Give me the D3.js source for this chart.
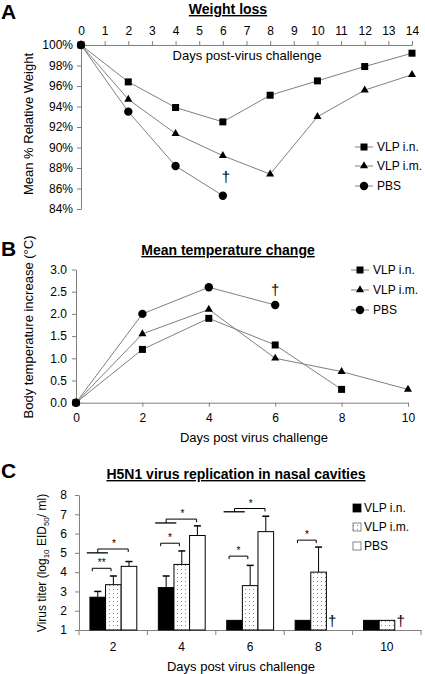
<!DOCTYPE html>
<html><head><meta charset="utf-8">
<script src="https://cdn.jsdelivr.net/npm/d3@7"></script>
<style>
body{margin:0;background:#fff;}
svg{display:block;font-family:"Liberation Sans",Arial,sans-serif;}
</style></head><body>
<script>
// ---------- Panel A: weight loss ----------
const aDays = [0, 2, 4, 6, 8, 10, 12, 14];
const aVLPin = [100, 96.4, 93.9, 92.5, 95.1, 96.5, 97.9, 99.2];
const aVLPim = [100, 94.7, 91.35, 89.2, 87.4, 93.0, 95.6, 97.1];
const aPBSDays = [0, 2, 4, 6];
const aPBS = [100, 93.5, 88.2, 85.3];
const aXTicks = [0, 1, 2, 3, 4, 5, 6, 7, 8, 9, 10, 11, 12, 13, 14];
const aYTicks = [84, 86, 88, 90, 92, 94, 96, 98, 100];

// ---------- Panel B: temperature ----------
const bDaysIn = [0, 2, 4, 6, 8];
const bVLPin = [0, 1.2, 1.9, 1.3, 0.3];
const bDaysIm = [0, 2, 4, 6, 8, 10];
const bVLPim = [0, 1.55, 2.1, 1.0, 0.7, 0.3];
const bDaysPBS = [0, 2, 4, 6];
const bPBS = [0, 2.0, 2.6, 2.2];
const bXTicks = [0, 2, 4, 6, 8, 10];
const bYTicks = [0, 0.5, 1.0, 1.5, 2.0, 2.5, 3.0];

// ---------- Panel C: virus titers ----------
const cDays = [2, 4, 6, 8, 10];
const cVLPin = [2.7, 3.2, 1.5, 1.5, 1.5];
const cVLPinTop = [3.0, 3.8, null, null, null];
const cVLPim = [3.35, 4.4, 3.3, 4.0, 1.5];
const cVLPimTop = [3.8, 5.1, 4.35, 5.3, null];
const cPBS = [4.3, 5.9, 6.1, null, null];
const cPBSTop = [4.55, 6.4, 6.9, null, null];
const cYTicks = [1, 2, 3, 4, 5, 6, 7, 8];
const seriesNames = ["VLP i.n.", "VLP i.m.", "PBS"];
// significance: pair bracket (VLP i.n. vs VLP i.m.)
const pairSig = [
  {day: 2, level: 4.2, label: "**"},
  {day: 4, level: 5.5, label: "*"},
  {day: 6, level: 4.83, label: "*"},
  {day: 8, level: 5.66, label: "*"}
];
// significance: vaccinated groups vs PBS
const groupSig = [
  {day: 2, lower: 5.0, upper: 5.2, label: "*"},
  {day: 4, lower: 6.55, upper: 6.75, label: "*"},
  {day: 6, lower: 7.13, upper: 7.3, label: "*"}
];
const deadDays = [8, 10];

const W = 425, H = 674;
const svg = d3.select("body").append("svg").attr("width", W).attr("height", H);
const axisGray = "#808080", lineGray = "#808080";

const defs = svg.append("defs");
const pat = defs.append("pattern").attr("id", "dots").attr("patternUnits", "userSpaceOnUse")
  .attr("width", 4).attr("height", 4);
pat.append("rect").attr("width", 4).attr("height", 4).attr("fill", "#fff");
pat.append("rect").attr("x", 1).attr("y", 1).attr("width", 1).attr("height", 1).attr("fill", "#888");

function marker(g, type, x, y) {
  if (type === "square") {
    g.append("rect").attr("x", x - 3.5).attr("y", y - 3.5).attr("width", 7).attr("height", 7).attr("fill", "#000");
  } else if (type === "triangle") {
    g.append("path").attr("d", d3.symbol(d3.symbolTriangle).size(28)()).attr("transform", `translate(${x},${y})`).attr("fill", "#000");
  } else {
    g.append("circle").attr("cx", x).attr("cy", y).attr("r", 4.2).attr("fill", "#000");
  }
}
function series(g, xs, ys, xScale, yScale, type) {
  const pts = xs.map((d, i) => [xScale(d), yScale(ys[i])]);
  g.append("path").attr("d", d3.line()(pts)).attr("fill", "none").attr("stroke", lineGray).attr("stroke-width", 1);
  pts.forEach(p => marker(g, type, p[0], p[1]));
}
function styleAxis(sel) {
  sel.select(".domain").attr("stroke", axisGray);
  sel.selectAll(".tick line").attr("stroke", axisGray);
  sel.selectAll("text").attr("fill", "#000").attr("font-size", 12).attr("font-family", "Liberation Sans, Arial, sans-serif");
}
function lineLegend(g, x, y, type, label) {
  g.append("line").attr("x1", x - 9).attr("x2", x + 9).attr("y1", y).attr("y2", y).attr("stroke", lineGray);
  marker(g, type, x, y);
  g.append("text").attr("x", x + 13).attr("y", y).attr("dy", "0.35em").attr("font-size", 12).text(label);
}
function letter(x, y, t) {
  svg.append("text").attr("x", x).attr("y", y).attr("font-size", 21).attr("font-weight", "bold").text(t);
}
function title(x, y, t) {
  svg.append("text").attr("x", x).attr("y", y).attr("text-anchor", "middle").attr("font-size", 14)
    .attr("font-weight", "bold").attr("text-decoration", "underline").text(t);
}
function yTitle(x, y, t, size) {
  return svg.append("text").attr("transform", `translate(${x},${y}) rotate(-90)`).attr("text-anchor", "middle")
    .attr("dy", "0.35em").attr("font-size", size || 13).text(t);
}

// ================= Panel A =================
letter(1, 19, "A");
title(228, 14, "Weight loss");
const xA = d3.scaleLinear().domain([0, 14]).range([81, 412]);
const yA = d3.scaleLinear().domain([84, 100]).range([209, 45]);
const gA = svg.append("g");
gA.append("g").attr("transform", "translate(0,45)")
  .call(d3.axisTop(xA).tickValues(aXTicks).tickFormat(d3.format("d")).tickSize(4).tickPadding(6).tickSizeOuter(0)).call(styleAxis);
gA.append("g").attr("transform", "translate(81,0)")
  .call(d3.axisLeft(yA).tickValues(aYTicks).tickFormat(d => d + "%").tickSize(4).tickPadding(4).tickSizeOuter(0)).call(styleAxis);
svg.append("text").attr("x", 247).attr("y", 60).attr("text-anchor", "middle").attr("font-size", 13).text("Days post-virus challenge");
yTitle(28, 124, "Mean % Relative Weight");
series(gA, aDays, aVLPin, xA, yA, "square");
series(gA, aDays, aVLPim, xA, yA, "triangle");
series(gA, aPBSDays, aPBS, xA, yA, "circle");
gA.append("text").attr("x", xA(6) + 3).attr("y", 182).attr("text-anchor", "middle").attr("font-size", 15).attr("fill", "#000").text("†");
lineLegend(gA, 364, 147, "square", seriesNames[0]);
lineLegend(gA, 364, 166, "triangle", seriesNames[1]);
lineLegend(gA, 364, 186, "circle", seriesNames[2]);

// ================= Panel B =================
letter(1, 256, "B");
title(228, 255, "Mean temperature change");
const xB = d3.scaleLinear().domain([0, 10]).range([76, 408]);
const yB = d3.scaleLinear().domain([0, 3]).range([402.7, 269.5]);
const gB = svg.append("g");
gB.append("g").attr("transform", "translate(0,402.7)")
  .call(d3.axisBottom(xB).tickValues(bXTicks).tickFormat(d3.format("d")).tickSize(4).tickPadding(7).tickSizeOuter(0)).call(styleAxis);
gB.append("g").attr("transform", "translate(76,0)")
  .call(d3.axisLeft(yB).tickValues(bYTicks).tickFormat(d3.format(".1f")).tickSize(4).tickPadding(5).tickSizeOuter(0)).call(styleAxis);
svg.append("text").attr("x", 254).attr("y", 442).attr("text-anchor", "middle").attr("font-size", 13).text("Days post virus challenge");
yTitle(28, 327, "Body temperature increase (°C)");
series(gB, bDaysIn, bVLPin, xB, yB, "square");
series(gB, bDaysIm, bVLPim, xB, yB, "triangle");
series(gB, bDaysPBS, bPBS, xB, yB, "circle");
gB.append("text").attr("x", xB(6)).attr("y", 295).attr("text-anchor", "middle").attr("font-size", 15).text("†");
lineLegend(gB, 360, 270, "square", seriesNames[0]);
lineLegend(gB, 360, 290, "triangle", seriesNames[1]);
lineLegend(gB, 360, 310, "circle", seriesNames[2]);

// ================= Panel C =================
letter(1, 478, "C");
title(236, 479, "H5N1 virus replication in nasal cavities");
const xC = d3.scaleBand().domain(cDays).range([79, 421]).padding(0);
const yC = d3.scaleLinear().domain([1, 8]).range([630, 495]);
const bw = xC.bandwidth();
const xSub = d3.scaleBand().domain([0, 1, 2]).range([bw * 0.16, bw * 0.845]);
const sw = xSub.bandwidth();
const gC = svg.append("g");
const fills = ["#000", "url(#dots)", "#fff"];
const vals = [cVLPin, cVLPim, cPBS];
const tops = [cVLPinTop, cVLPimTop, cPBSTop];

// axes
gC.append("g").attr("transform", "translate(79,0)")
  .call(d3.axisLeft(yC).tickValues(cYTicks).tickFormat(d3.format("d")).tickSize(4).tickPadding(8).tickSizeOuter(0)).call(styleAxis);
const xAx = gC.append("g").attr("transform", "translate(0,630)")
  .call(d3.axisBottom(xC).tickSize(0).tickPadding(12)).call(styleAxis);
const bounds = cDays.map(d => xC(d)).concat([xC(cDays[cDays.length - 1]) + bw]);
gC.selectAll(".btick").data(bounds).enter().append("line")
  .attr("x1", d => d).attr("x2", d => d).attr("y1", 630).attr("y2", 635).attr("stroke", axisGray);

// bars
vals.forEach((arr, s) => {
  cDays.forEach((d, i) => {
    const v = arr[i];
    if (v == null) return;
    const x = xC(d) + xSub(s);
    const t = tops[s][i];
    if (t != null) {
      const cx = x + sw / 2;
      gC.append("line").attr("x1", cx).attr("x2", cx).attr("y1", yC(v)).attr("y2", yC(t)).attr("stroke", "#000");
      gC.append("line").attr("x1", cx - 3.5).attr("x2", cx + 3.5).attr("y1", yC(t)).attr("y2", yC(t)).attr("stroke", "#000").attr("stroke-width", 1.5);
    }
    gC.append("rect").attr("x", x).attr("y", yC(v)).attr("width", sw).attr("height", yC(1) - yC(v))
      .attr("fill", fills[s]).attr("stroke", "#000").attr("stroke-width", 1);
  });
});

// significance brackets
const slot = (d, p) => xC(d) + xSub(0) + p * sw;
pairSig.forEach(s => {
  const x1 = slot(s.day, 0.15), x2 = slot(s.day, 1.35), y = yC(s.level);
  gC.append("path").attr("d", `M${x1},${y + 3}V${y}H${x2}V${y + 3}`).attr("fill", "none").attr("stroke", "#000");
  gC.append("text").attr("x", (x1 + x2) / 2).attr("y", y - 2).attr("text-anchor", "middle").attr("font-size", 10).text(s.label);
});
groupSig.forEach(s => {
  const yl = yC(s.lower), yu = yC(s.upper);
  const l1 = slot(s.day, -0.2), l2 = slot(s.day, 1.15);
  gC.append("line").attr("x1", l1).attr("x2", l2).attr("y1", yl).attr("y2", yl).attr("stroke", "#000").attr("stroke-width", 1.3);
  const u1 = slot(s.day, 0.5), u2 = slot(s.day, 2.45);
  gC.append("path").attr("d", `M${u1},${yl}V${yu}H${u2}V${yu + 3}`).attr("fill", "none").attr("stroke", "#000");
  gC.append("text").attr("x", (u1 + u2) / 2 + 1).attr("y", yu - 2).attr("text-anchor", "middle").attr("font-size", 10).text(s.label);
});
deadDays.forEach(d => {
  gC.append("text").attr("x", xC(d) + xSub(2) + sw / 2 - 2).attr("y", 626).attr("text-anchor", "middle").attr("font-size", 15).text("†");
});

// legend C
seriesNames.forEach((n, i) => {
  const y = 508 + i * 19;
  gC.append("rect").attr("x", 353).attr("y", y - 4).attr("width", 8).attr("height", 8)
    .attr("fill", fills[i]).attr("stroke", i === 0 ? "#000" : "#666").attr("stroke-width", 0.8);
  gC.append("text").attr("x", 364).attr("y", y).attr("dy", "0.35em").attr("font-size", 12).text(n);
});

svg.append("text").attr("x", 241).attr("y", 671).attr("text-anchor", "middle").attr("font-size", 13).text("Days post virus challenge");
const yt = svg.append("text").attr("transform", "translate(42,563) rotate(-90)").attr("text-anchor", "middle")
  .attr("dy", "0.35em").attr("font-size", 12);
yt.append("tspan").text("Virus titer (log");
yt.append("tspan").attr("font-size", 8).attr("dy", "3").text("10");
yt.append("tspan").attr("dy", "-3").text(" EID");
yt.append("tspan").attr("font-size", 8).attr("dy", "3").text("50");
yt.append("tspan").attr("dy", "-3").text("/ ml)");
</script>
</body></html>
